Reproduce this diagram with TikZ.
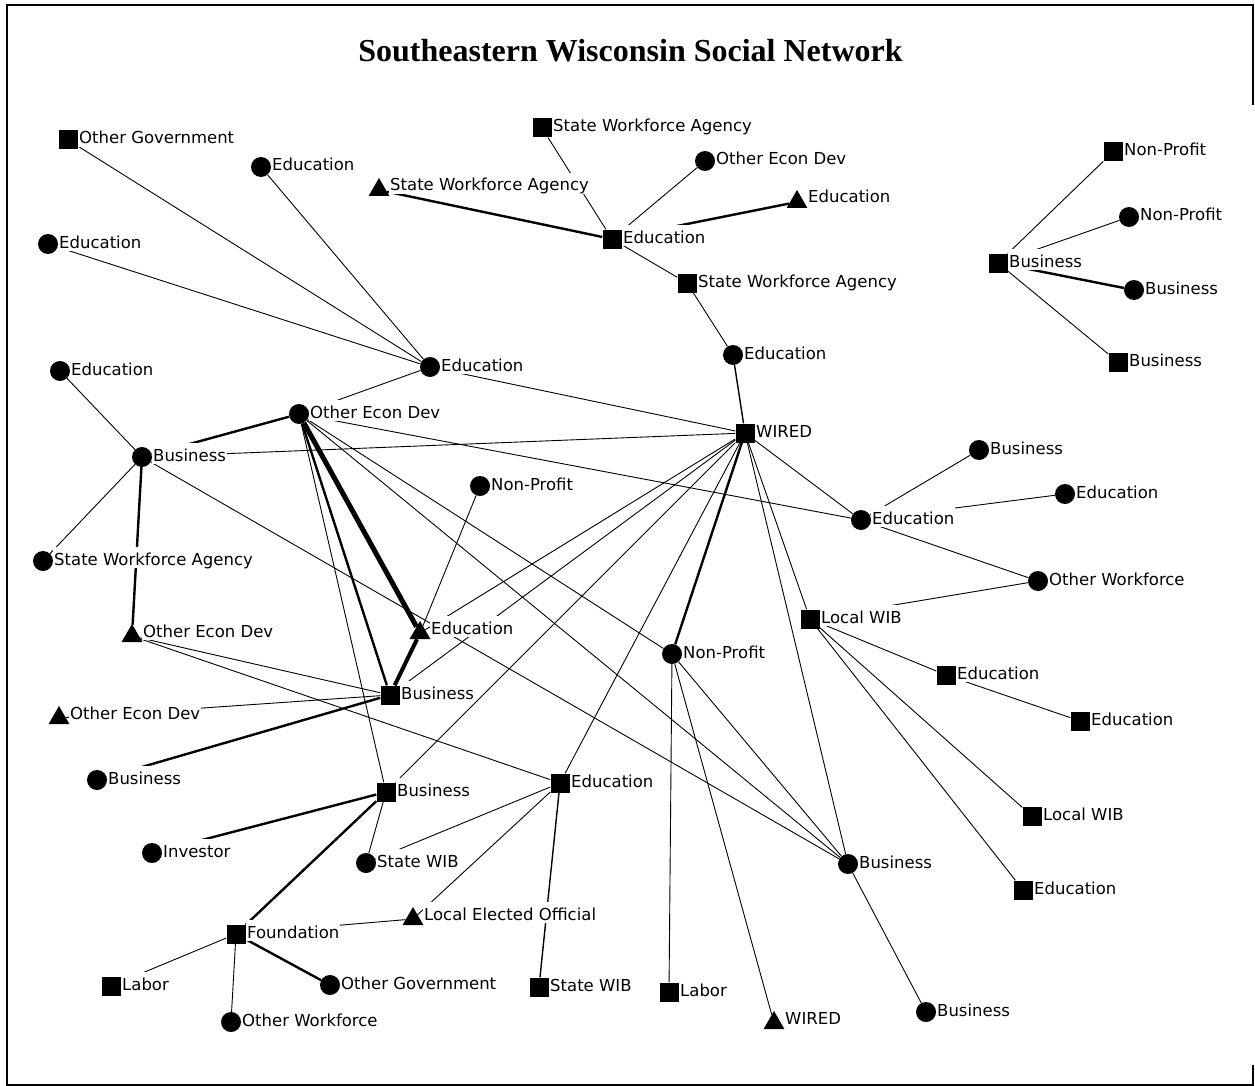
\documentclass[tikz,border=0pt]{standalone}
\usepackage{fontspec}
\setmainfont{DejaVu Sans}
\newfontfamily\titlefont{Liberation Serif}
\usetikzlibrary{shapes.geometric}
\pgfdeclarelayer{edg}
\pgfdeclarelayer{lab}
\pgfsetlayers{edg,lab,main}
\tikzset{
  sq/.style={rectangle,fill=black,minimum size=19pt,inner sep=0pt},
  ci/.style={circle,fill=black,minimum size=20pt,inner sep=0pt},
  tri/.style={regular polygon,regular polygon sides=3,fill=black,minimum size=24pt,inner sep=0pt,yshift=-3pt},
  lbl/.style={anchor=base west,fill=white,inner sep=1pt,text height=17pt,text depth=2pt,font=\fontsize{16.5}{19}\selectfont},
  thn/.style={line width=0.9pt},
  med/.style={line width=1.4pt},
  thk/.style={line width=2.4pt},
  xthk/.style={line width=4pt},
  vthk/.style={line width=5pt},
  frame/.style={line width=2pt}
}
\newcommand\mknd[5]{%
  \node[#2] (#1) at (#3,#4) {};
  \begin{pgfonlayer}{lab}\node[lbl] (#1l) at (#3+10,#4+4) {#5};\end{pgfonlayer}}
\begin{document}
\begin{tikzpicture}[x=1pt,y=-1pt]
\useasboundingbox (0,0) rectangle (1255,1086);
% frame
\draw[frame] (7,105) |- (1253,5) -- (1253,105);
\draw[line width=1.2pt] (7,105) -- (7,1066);
\draw[frame] (7,1065) |- (1253,1085) -- (1253,1065);
\node[font=\titlefont\bfseries\fontsize{32}{38}\selectfont,anchor=base] (title) at (630.5,62) {Southeastern Wisconsin Social Network};
% nodes
\mknd{n1}{sq}{68}{140}{Other Government}
\mknd{n2}{ci}{261}{167}{Education}
\mknd{n3}{ci}{48}{244}{Education}
\mknd{n4}{tri}{379}{187}{State Workforce Agency}
\mknd{n5}{sq}{542}{128}{State Workforce Agency}
\mknd{n6}{ci}{705}{161}{Other Econ Dev}
\mknd{n7}{tri}{797}{199}{Education}
\mknd{n8}{sq}{612}{239}{Education}
\mknd{n9}{sq}{687}{283}{State Workforce Agency}
\mknd{n10}{ci}{733}{355}{Education}
\mknd{n11}{ci}{430}{367}{Education}
\mknd{n12}{ci}{60}{371}{Education}
\mknd{n13}{ci}{299}{414}{Other Econ Dev}
\mknd{n14}{ci}{142}{457}{Business}
\mknd{n15}{sq}{745}{433}{WIRED}
\mknd{n16}{ci}{480}{486}{Non-Profit}
\mknd{n17}{ci}{979}{450}{Business}
\mknd{n18}{ci}{1065}{494}{Education}
\mknd{n19}{ci}{861}{520}{Education}
\mknd{n20}{ci}{43}{561}{State Workforce Agency}
\mknd{n21}{ci}{1038}{581}{Other Workforce}
\mknd{n22}{sq}{810}{619}{Local WIB}
\mknd{n23}{tri}{132}{633}{Other Econ Dev}
\mknd{n24}{tri}{420}{630}{Education}
\mknd{n25}{ci}{672}{654}{Non-Profit}
\mknd{n26}{sq}{946}{675}{Education}
\mknd{n27}{sq}{390}{695}{Business}
\mknd{n28}{tri}{59}{715}{Other Econ Dev}
\mknd{n29}{sq}{1080}{721}{Education}
\mknd{n30}{ci}{97}{780}{Business}
\mknd{n31}{sq}{560}{783}{Education}
\mknd{n32}{sq}{386}{792}{Business}
\mknd{n33}{sq}{1032}{816}{Local WIB}
\mknd{n34}{ci}{152}{853}{Investor}
\mknd{n35}{ci}{366}{863}{State WIB}
\mknd{n36}{ci}{848}{864}{Business}
\mknd{n37}{sq}{1023}{890}{Education}
\mknd{n38}{tri}{413}{916}{Local Elected Official}
\mknd{n39}{sq}{236}{934}{Foundation}
\mknd{n40}{sq}{111}{986}{Labor}
\mknd{n41}{ci}{330}{985}{Other Government}
\mknd{n42}{sq}{539}{987}{State WIB}
\mknd{n43}{sq}{669}{992}{Labor}
\mknd{n44}{tri}{774}{1020}{WIRED}
\mknd{n45}{ci}{926}{1012}{Business}
\mknd{n46}{ci}{231}{1022}{Other Workforce}
\mknd{n47}{sq}{998}{263}{Business}
\mknd{n48}{sq}{1113}{152}{Non-Profit}
\mknd{n49}{ci}{1129}{217}{Non-Profit}
\mknd{n50}{ci}{1134}{290}{Business}
\mknd{n51}{sq}{1118}{362}{Business}
% edges
\begin{pgfonlayer}{edg}
\draw[thn] (n1)--(n11); \draw[thn] (n2)--(n11); \draw[thn] (n3)--(n11);
\draw[thn] (n11)--(n13); \draw[thn] (n11)--(n15);
\draw[thn] (n5)--(n8); \draw[thn] (n6)--(n8); \draw[thn] (n8)--(n9); \draw[thn] (n9)--(n10);
\draw[med] (n10)--(n15);
\draw[thk] (n4)--(n8); \draw[thk] (n8)--(n7);
\draw[thn] (n47)--(n48); \draw[thn] (n47)--(n49); \draw[thn] (n47)--(n51); \draw[thk] (n47)--(n50);
\draw[thk] (n14)--(n13);
\draw[thn] (n14)--(n12); \draw[thn] (n14)--(n20); \draw[thn] (n14)--(n15); \draw[thn] (n14)--(n36);
\draw[thk] (n14)--(n23);
\draw[vthk] (n13)--(n24);
\draw[thk] (n13)--(n27);
\draw[thn] (n13)--(n32); \draw[thn] (n13)--(n19); \draw[thn] (n13)--(n25); \draw[thn] (n13)--(n36);
\draw[thn] (n24)--(n16);
\draw[xthk] (n24)--(n27);
\draw[thn] (n15)--(n24); \draw[thn] (n15)--(n27); \draw[thn] (n15)--(n32); \draw[thn] (n15)--(n31);
\draw[thk] (n15)--(n25);
\draw[thn] (n15)--(n22); \draw[thn] (n15)--(n36); \draw[thn] (n15)--(n19);
\draw[thn] (n23)--(n27); \draw[thn] (n23)--(n31); \draw[thn] (n28)--(n27);
\draw[thk] (n30)--(n27);
\draw[thk] (n32)--(n34); \draw[thk] (n32)--(n39);
\draw[thn] (n32)--(n35); \draw[thn] (n31)--(n35); \draw[thn] (n31)--(n38); \draw[med] (n31)--(n42);
\draw[thn] (n39)--(n38); \draw[thn] (n39)--(n40); \draw[thk] (n39)--(n41); \draw[thn] (n39)--(n46);
\draw[thn] (n25)--(n43); \draw[thn] (n25)--(n44); \draw[thn] (n25)--(n36);
\draw[thn] (n36)--(n45);
\draw[thn] (n19)--(n17); \draw[thn] (n19)--(n18); \draw[thn] (n19)--(n21);
\draw[thn] (n22)--(n21); \draw[thn] (n22)--(n26); \draw[thn] (n22)--(n33); \draw[thn] (n22)--(n37);
\draw[thn] (n26)--(n29);
\end{pgfonlayer}
\end{tikzpicture}
\end{document}
